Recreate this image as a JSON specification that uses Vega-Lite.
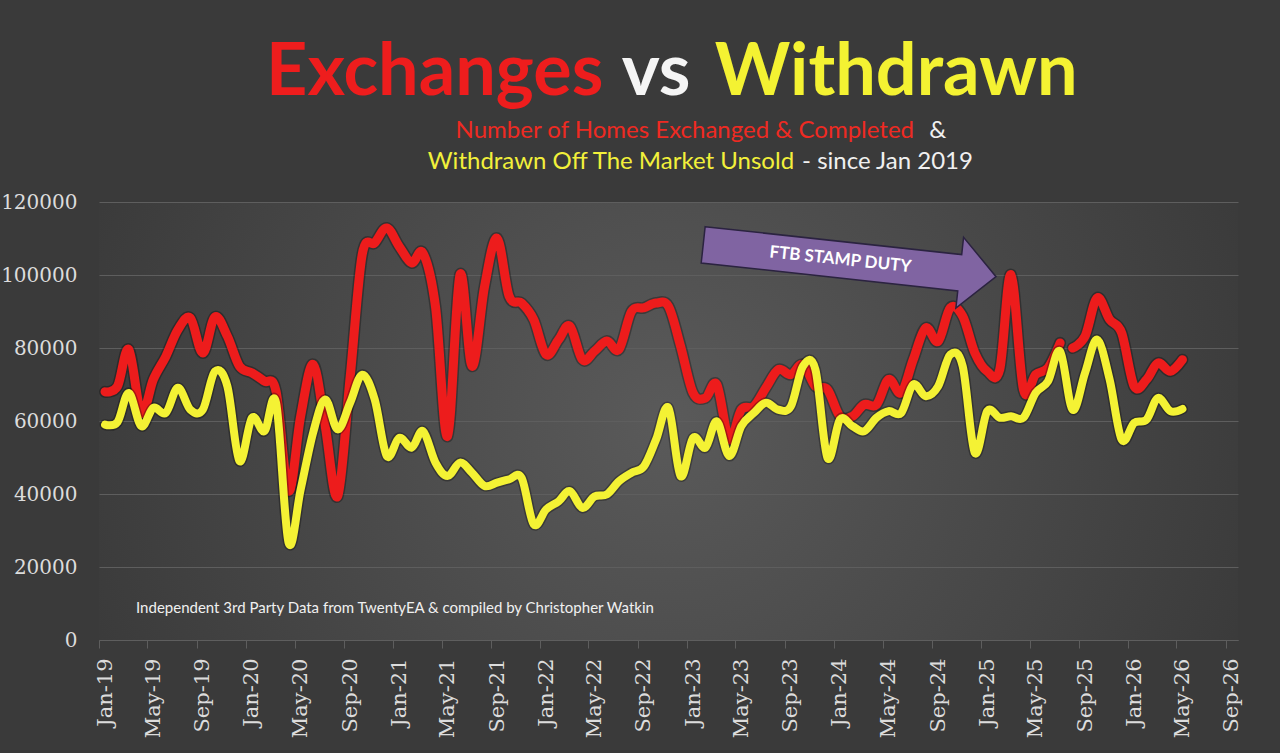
{
  "$schema": "https://vega.github.io/schema/vega-lite/v6.json",
  "width": 1139,
  "height": 438,
  "autosize": {"type": "none"},
  "padding": {"left": 99, "top": 202, "right": 42, "bottom": 113},
  "background": "#3a3a3a",
  "config": {
    "font": "Lato",
    "view": {
      "stroke": null,
      "fill": {
        "gradient": "radial",
        "x1": 0.5, "y1": 0.5, "r1": 0,
        "x2": 0.5, "y2": 0.5, "r2": 0.55,
        "stops": [
          {"offset": 0, "color": "#5a5a5a"},
          {"offset": 1, "color": "#3a3a3a"}
        ]
      }
    },
    "axis": {
      "labelFont": "DejaVu Serif",
      "labelColor": "#dcdcdc",
      "gridColor": "#5e5e5e",
      "domainColor": "#5e5e5e",
      "tickColor": "#5e5e5e"
    }
  },
  "data": {
    "values": [
      {"month": "2019-01-16", "exchanged": 68000, "withdrawn": 59000, "run": 1},
      {"month": "2019-02-16", "exchanged": 69500, "withdrawn": 59700, "run": 1},
      {"month": "2019-03-16", "exchanged": 79600, "withdrawn": 67700, "run": 1},
      {"month": "2019-04-16", "exchanged": 62200, "withdrawn": 58600, "run": 1},
      {"month": "2019-05-16", "exchanged": 71400, "withdrawn": 63600, "run": 1},
      {"month": "2019-06-16", "exchanged": 77700, "withdrawn": 62200, "run": 1},
      {"month": "2019-07-16", "exchanged": 85000, "withdrawn": 69100, "run": 1},
      {"month": "2019-08-16", "exchanged": 88200, "withdrawn": 63100, "run": 1},
      {"month": "2019-09-16", "exchanged": 78600, "withdrawn": 63100, "run": 1},
      {"month": "2019-10-16", "exchanged": 88500, "withdrawn": 73600, "run": 1},
      {"month": "2019-11-16", "exchanged": 83200, "withdrawn": 69500, "run": 1},
      {"month": "2019-12-16", "exchanged": 75000, "withdrawn": 49000, "run": 1},
      {"month": "2020-01-16", "exchanged": 73200, "withdrawn": 60900, "run": 1},
      {"month": "2020-02-16", "exchanged": 70900, "withdrawn": 57200, "run": 1},
      {"month": "2020-03-16", "exchanged": 68100, "withdrawn": 65000, "run": 1},
      {"month": "2020-04-16", "exchanged": 40800, "withdrawn": 26700, "run": 1},
      {"month": "2020-05-16", "exchanged": 61300, "withdrawn": 41200, "run": 1},
      {"month": "2020-06-16", "exchanged": 75500, "withdrawn": 56800, "run": 1},
      {"month": "2020-07-16", "exchanged": 58600, "withdrawn": 65900, "run": 1},
      {"month": "2020-08-16", "exchanged": 39400, "withdrawn": 57700, "run": 1},
      {"month": "2020-09-16", "exchanged": 72000, "withdrawn": 65000, "run": 1},
      {"month": "2020-10-16", "exchanged": 105600, "withdrawn": 72700, "run": 1},
      {"month": "2020-11-16", "exchanged": 108800, "withdrawn": 65900, "run": 1},
      {"month": "2020-12-16", "exchanged": 112900, "withdrawn": 50400, "run": 1},
      {"month": "2021-01-16", "exchanged": 107800, "withdrawn": 55400, "run": 1},
      {"month": "2021-02-16", "exchanged": 103300, "withdrawn": 52700, "run": 1},
      {"month": "2021-03-16", "exchanged": 106000, "withdrawn": 57200, "run": 1},
      {"month": "2021-04-16", "exchanged": 91400, "withdrawn": 48600, "run": 1},
      {"month": "2021-05-16", "exchanged": 55800, "withdrawn": 44900, "run": 1},
      {"month": "2021-06-16", "exchanged": 100100, "withdrawn": 48600, "run": 1},
      {"month": "2021-07-16", "exchanged": 75000, "withdrawn": 45800, "run": 1},
      {"month": "2021-08-16", "exchanged": 96900, "withdrawn": 42200, "run": 1},
      {"month": "2021-09-16", "exchanged": 110100, "withdrawn": 43100, "run": 1},
      {"month": "2021-10-16", "exchanged": 94200, "withdrawn": 44000, "run": 1},
      {"month": "2021-11-16", "exchanged": 92300, "withdrawn": 44400, "run": 1},
      {"month": "2021-12-16", "exchanged": 87800, "withdrawn": 31700, "run": 1},
      {"month": "2022-01-16", "exchanged": 78200, "withdrawn": 35800, "run": 1},
      {"month": "2022-02-16", "exchanged": 82300, "withdrawn": 38000, "run": 1},
      {"month": "2022-03-16", "exchanged": 86000, "withdrawn": 40800, "run": 1},
      {"month": "2022-04-16", "exchanged": 76800, "withdrawn": 36200, "run": 1},
      {"month": "2022-05-16", "exchanged": 79100, "withdrawn": 39300, "run": 1},
      {"month": "2022-06-16", "exchanged": 81900, "withdrawn": 39900, "run": 1},
      {"month": "2022-07-16", "exchanged": 79600, "withdrawn": 43500, "run": 1},
      {"month": "2022-08-16", "exchanged": 90000, "withdrawn": 45800, "run": 1},
      {"month": "2022-09-16", "exchanged": 91000, "withdrawn": 47600, "run": 1},
      {"month": "2022-10-16", "exchanged": 92300, "withdrawn": 54900, "run": 1},
      {"month": "2022-11-16", "exchanged": 91400, "withdrawn": 63600, "run": 1},
      {"month": "2022-12-16", "exchanged": 80500, "withdrawn": 44900, "run": 1},
      {"month": "2023-01-16", "exchanged": 67700, "withdrawn": 55400, "run": 1},
      {"month": "2023-02-16", "exchanged": 66300, "withdrawn": 52700, "run": 1},
      {"month": "2023-03-16", "exchanged": 70000, "withdrawn": 59900, "run": 1},
      {"month": "2023-04-16", "exchanged": 54900, "withdrawn": 50400, "run": 1},
      {"month": "2023-05-16", "exchanged": 63100, "withdrawn": 58600, "run": 1},
      {"month": "2023-06-16", "exchanged": 64000, "withdrawn": 62200, "run": 1},
      {"month": "2023-07-16", "exchanged": 69100, "withdrawn": 65000, "run": 1},
      {"month": "2023-08-16", "exchanged": 74100, "withdrawn": 63100, "run": 1},
      {"month": "2023-09-16", "exchanged": 72700, "withdrawn": 64000, "run": 1},
      {"month": "2023-10-16", "exchanged": 75500, "withdrawn": 75000, "run": 1},
      {"month": "2023-11-16", "exchanged": 69500, "withdrawn": 74100, "run": 1},
      {"month": "2023-12-16", "exchanged": 68600, "withdrawn": 49900, "run": 1},
      {"month": "2024-01-16", "exchanged": 61300, "withdrawn": 60400, "run": 1},
      {"month": "2024-02-16", "exchanged": 61300, "withdrawn": 58600, "run": 1},
      {"month": "2024-03-16", "exchanged": 64500, "withdrawn": 57200, "run": 1},
      {"month": "2024-04-16", "exchanged": 64500, "withdrawn": 60900, "run": 1},
      {"month": "2024-05-16", "exchanged": 71400, "withdrawn": 62700, "run": 1},
      {"month": "2024-06-16", "exchanged": 67700, "withdrawn": 62200, "run": 1},
      {"month": "2024-07-16", "exchanged": 76800, "withdrawn": 70000, "run": 1},
      {"month": "2024-08-16", "exchanged": 85500, "withdrawn": 66800, "run": 1},
      {"month": "2024-09-16", "exchanged": 81800, "withdrawn": 69500, "run": 1},
      {"month": "2024-10-16", "exchanged": 91000, "withdrawn": 78200, "run": 1},
      {"month": "2024-11-16", "exchanged": 88700, "withdrawn": 75000, "run": 1},
      {"month": "2024-12-16", "exchanged": 78700, "withdrawn": 51300, "run": 1},
      {"month": "2025-01-16", "exchanged": 73600, "withdrawn": 62700, "run": 1},
      {"month": "2025-02-16", "exchanged": 74100, "withdrawn": 60900, "run": 1},
      {"month": "2025-03-16", "exchanged": 100100, "withdrawn": 61300, "run": 1},
      {"month": "2025-04-16", "exchanged": 68600, "withdrawn": 60900, "run": 1},
      {"month": "2025-05-16", "exchanged": 72700, "withdrawn": 67700, "run": 1},
      {"month": "2025-06-16", "exchanged": 74600, "withdrawn": 70900, "run": 1},
      {"month": "2025-07-16", "exchanged": 81400, "withdrawn": 79100, "run": 1},
      {"month": "2025-08-16", "exchanged": 80000, "withdrawn": 63100, "run": 2},
      {"month": "2025-09-16", "exchanged": 83200, "withdrawn": 73200, "run": 2},
      {"month": "2025-10-16", "exchanged": 93700, "withdrawn": 82300, "run": 2},
      {"month": "2025-11-16", "exchanged": 87800, "withdrawn": 71400, "run": 2},
      {"month": "2025-12-16", "exchanged": 84100, "withdrawn": 54900, "run": 2},
      {"month": "2026-01-16", "exchanged": 69500, "withdrawn": 59500, "run": 2},
      {"month": "2026-02-16", "exchanged": 71400, "withdrawn": 60400, "run": 2},
      {"month": "2026-03-16", "exchanged": 75900, "withdrawn": 66300, "run": 2},
      {"month": "2026-04-16", "exchanged": 73600, "withdrawn": 62700, "run": 2},
      {"month": "2026-05-16", "exchanged": 76800, "withdrawn": 63300, "run": 2}
    ]
  },
  "layer": [
    {
      "mark": {"type": "line", "interpolate": "cardinal", "color": "#000000", "opacity": 0.3, "strokeWidth": 12, "strokeCap": "round", "strokeJoin": "round"},
      "encoding": {
        "x": {
          "field": "month",
          "type": "temporal",
          "title": null,
          "scale": {"domain": [{"year": 2019, "month": 1, "date": 1}, {"year": 2026, "month": 10, "date": 1}]},
          "axis": {
            "tickCount": {"interval": "month", "step": 4},
            "format": "%b-%y",
            "labelAngle": -90,
            "labelFontSize": 21,
            "labelOffset": 6,
            "labelPadding": 10,
            "labelFlush": false,
            "labelOverlap": false,
            "tickSize": 8,
            "grid": false
          }
        },
        "y": {
          "field": "exchanged",
          "type": "quantitative",
          "title": null,
          "scale": {"domain": [0, 120000]},
          "axis": {
            "values": [0, 20000, 40000, 60000, 80000, 100000, 120000],
            "format": "d",
            "domain": false,
            "ticks": false,
            "tickSize": 0,
            "labelPadding": 22,
            "labelFontSize": 20,
            "labelFlush": false,
            "gridWidth": 1.2
          }
        },
        "detail": {"field": "run"}
      }
    },
    {
      "mark": {"type": "line", "interpolate": "cardinal", "color": "#ed1c1c", "strokeWidth": 9, "strokeCap": "round", "strokeJoin": "round"},
      "encoding": {
        "x": {"field": "month", "type": "temporal", "title": null},
        "y": {"field": "exchanged", "type": "quantitative", "title": null},
        "detail": {"field": "run"}
      }
    },
    {
      "mark": {"type": "line", "interpolate": "cardinal", "color": "#000000", "opacity": 0.3, "strokeWidth": 11, "strokeCap": "round", "strokeJoin": "round"},
      "encoding": {
        "x": {"field": "month", "type": "temporal", "title": null},
        "y": {"field": "withdrawn", "type": "quantitative", "title": null}
      }
    },
    {
      "mark": {"type": "line", "interpolate": "cardinal", "color": "#f4f234", "strokeWidth": 8, "strokeCap": "round", "strokeJoin": "round"},
      "encoding": {
        "x": {"field": "month", "type": "temporal", "title": null},
        "y": {"field": "withdrawn", "type": "quantitative", "title": null}
      }
    },
    {
      "data": {"values": [{}]},
      "mark": {"type": "point", "shape": "M-1,-0.124L0.752,-0.124L0.752,-0.242L1,0L0.752,0.242L0.752,0.124L-1,0.124Z", "size": 86780, "angle": 6.2, "filled": true, "fill": "#8064a2", "stroke": "#2b2340", "strokeWidth": 1.5, "opacity": 1},
      "encoding": {
        "x": {"datum": {"year": 2024, "month": 2, "date": 9}, "type": "temporal", "title": null},
        "y": {"datum": 103900, "type": "quantitative", "title": null}
      }
    },
    {
      "data": {"values": [{}]},
      "mark": {"type": "text", "text": "FTB STAMP DUTY", "font": "Lato", "fontWeight": "bold", "fontSize": 17, "color": "#ffffff", "angle": 6, "align": "center", "baseline": "middle"},
      "encoding": {
        "x": {"datum": {"year": 2024, "month": 1, "date": 17}, "type": "temporal", "title": null},
        "y": {"datum": 104200, "type": "quantitative", "title": null}
      }
    },
    {
      "data": {"values": [{}]},
      "mark": {"type": "text", "text": "Exchanges", "font": "Lato", "fontWeight": "bold", "fontSize": 72, "color": "#ee1d1d", "align": "right", "baseline": "alphabetic"},
      "encoding": {
        "x": {"datum": {"year": 2022, "month": 6, "date": 7}, "type": "temporal", "title": null},
        "y": {"datum": 149400, "type": "quantitative", "title": null}
      }
    },
    {
      "data": {"values": [{}]},
      "mark": {"type": "text", "text": "vs", "font": "Lato", "fontWeight": "bold", "fontSize": 72, "color": "#f5f5f5", "align": "center", "baseline": "alphabetic"},
      "encoding": {
        "x": {"datum": {"year": 2022, "month": 10, "date": 16}, "type": "temporal", "title": null},
        "y": {"datum": 149400, "type": "quantitative", "title": null}
      }
    },
    {
      "data": {"values": [{}]},
      "mark": {"type": "text", "text": "Withdrawn", "font": "Lato", "fontWeight": "bold", "fontSize": 72, "color": "#f4f232", "align": "left", "baseline": "alphabetic"},
      "encoding": {
        "x": {"datum": {"year": 2023, "month": 3, "date": 11}, "type": "temporal", "title": null},
        "y": {"datum": 149400, "type": "quantitative", "title": null}
      }
    },
    {
      "data": {"values": [{}]},
      "mark": {"type": "text", "text": "Number of Homes Exchanged & Completed", "font": "Lato", "fontSize": 24, "color": "#ee2a22", "align": "right", "baseline": "alphabetic"},
      "encoding": {
        "x": {"datum": {"year": 2024, "month": 7, "date": 18}, "type": "temporal", "title": null},
        "y": {"datum": 137500, "type": "quantitative", "title": null}
      }
    },
    {
      "data": {"values": [{}]},
      "mark": {"type": "text", "text": "&", "font": "Lato", "fontSize": 24, "color": "#f0f0f0", "align": "left", "baseline": "alphabetic"},
      "encoding": {
        "x": {"datum": {"year": 2024, "month": 8, "date": 25}, "type": "temporal", "title": null},
        "y": {"datum": 137500, "type": "quantitative", "title": null}
      }
    },
    {
      "data": {"values": [{}]},
      "mark": {"type": "text", "text": "Withdrawn Off The Market Unsold", "font": "Lato", "fontSize": 24, "color": "#f2f03a", "align": "right", "baseline": "alphabetic"},
      "encoding": {
        "x": {"datum": {"year": 2023, "month": 9, "date": 24}, "type": "temporal", "title": null},
        "y": {"datum": 129000, "type": "quantitative", "title": null}
      }
    },
    {
      "data": {"values": [{}]},
      "mark": {"type": "text", "text": "- since Jan 2019", "font": "Lato", "fontSize": 24, "color": "#f0f0f0", "align": "left", "baseline": "alphabetic"},
      "encoding": {
        "x": {"datum": {"year": 2023, "month": 10, "date": 14}, "type": "temporal", "title": null},
        "y": {"datum": 129000, "type": "quantitative", "title": null}
      }
    },
    {
      "data": {"values": [{}]},
      "mark": {"type": "text", "text": "Independent 3rd Party Data from TwentyEA  & compiled by Christopher Watkin", "font": "Lato", "fontSize": 15, "color": "#f0f0f0", "align": "left", "baseline": "middle"},
      "encoding": {
        "x": {"datum": {"year": 2019, "month": 4, "date": 3}, "type": "temporal", "title": null},
        "y": {"datum": 8700, "type": "quantitative", "title": null}
      }
    }
  ]
}
